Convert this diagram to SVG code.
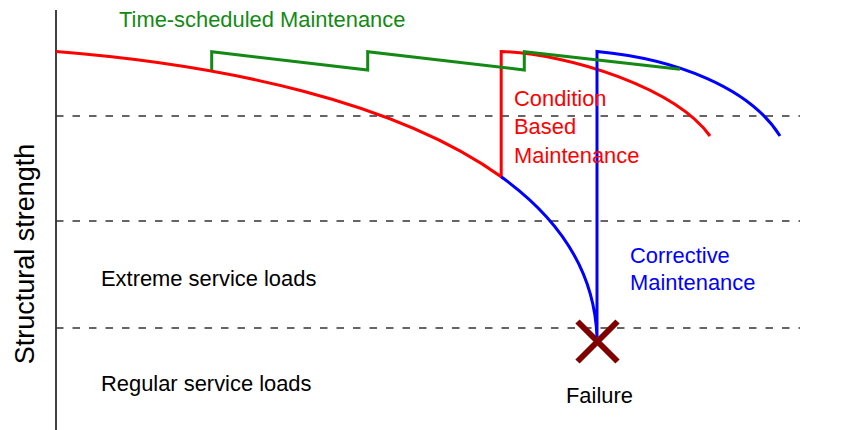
<svg xmlns="http://www.w3.org/2000/svg" width="844" height="430" viewBox="0 0 844 430">
<style>
text{font-family:"Liberation Sans",Arial,sans-serif;font-size:21.9px}
.dash{stroke:#333;stroke-width:1.5;stroke-dasharray:7.5 9;fill:none}
.c{fill:none;stroke-width:3;stroke-linejoin:miter}
.red{stroke:#ff0000}.blue{stroke:#0000ff}.green{stroke:#138a13}
</style>
<rect width="844" height="430" fill="#fff"/>
<g id="axes">
<line x1="56" y1="10" x2="56" y2="430" stroke="#000" stroke-width="1.5"/>
<line class="dash" x1="56" y1="116" x2="800" y2="116"/>
<line class="dash" x1="56" y1="221" x2="800" y2="221"/>
<line class="dash" x1="56" y1="328" x2="800" y2="328"/>
<text transform="translate(33.5,254) rotate(-90)" text-anchor="middle" style="font-size:27px">Structural strength</text>
</g>
<g id="zones">
<text x="101" y="285.7">Extreme service loads</text>
<text x="101" y="390.5">Regular service loads</text>
</g>
<g id="connectors">
<path id="cbm" class="c red" d="M56,51.5 C223.7,64.7 397.2,101.9 501.2,176.8 L501.2,51.5 C570,54 675,88 710,136"/>
<path id="cm" class="c blue" d="M501.2,176.8 C558.4,218 594.5,270.6 597,337 L597,51.5 C677,59 750,88 780,136"/>
<path id="tsm" class="c green" d="M211.7,70 V51.7 L367.7,70 V51.7 L524.3,70 V51.7 L680,69.3"/>
</g>
<g id="failure">
<path d="M577.5,321.5 L617.5,361.5 M617.5,321.5 L577.5,361.5" stroke="#800000" stroke-width="6" fill="none"/>
<text x="566" y="403.3" fill="#000">Failure</text>
</g>
<g id="label-tsm"><text x="119" y="27" fill="#138a13">Time-scheduled Maintenance</text></g>
<g id="label-cbm" fill="#ff0000">
<text x="514" y="106">Condition</text>
<text x="514" y="134.3">Based</text>
<text x="514" y="162.7">Maintenance</text>
</g>
<g id="label-cm" fill="#0000ff">
<text x="630" y="262.7">Corrective</text>
<text x="630" y="290">Maintenance</text>
</g>
</svg>
